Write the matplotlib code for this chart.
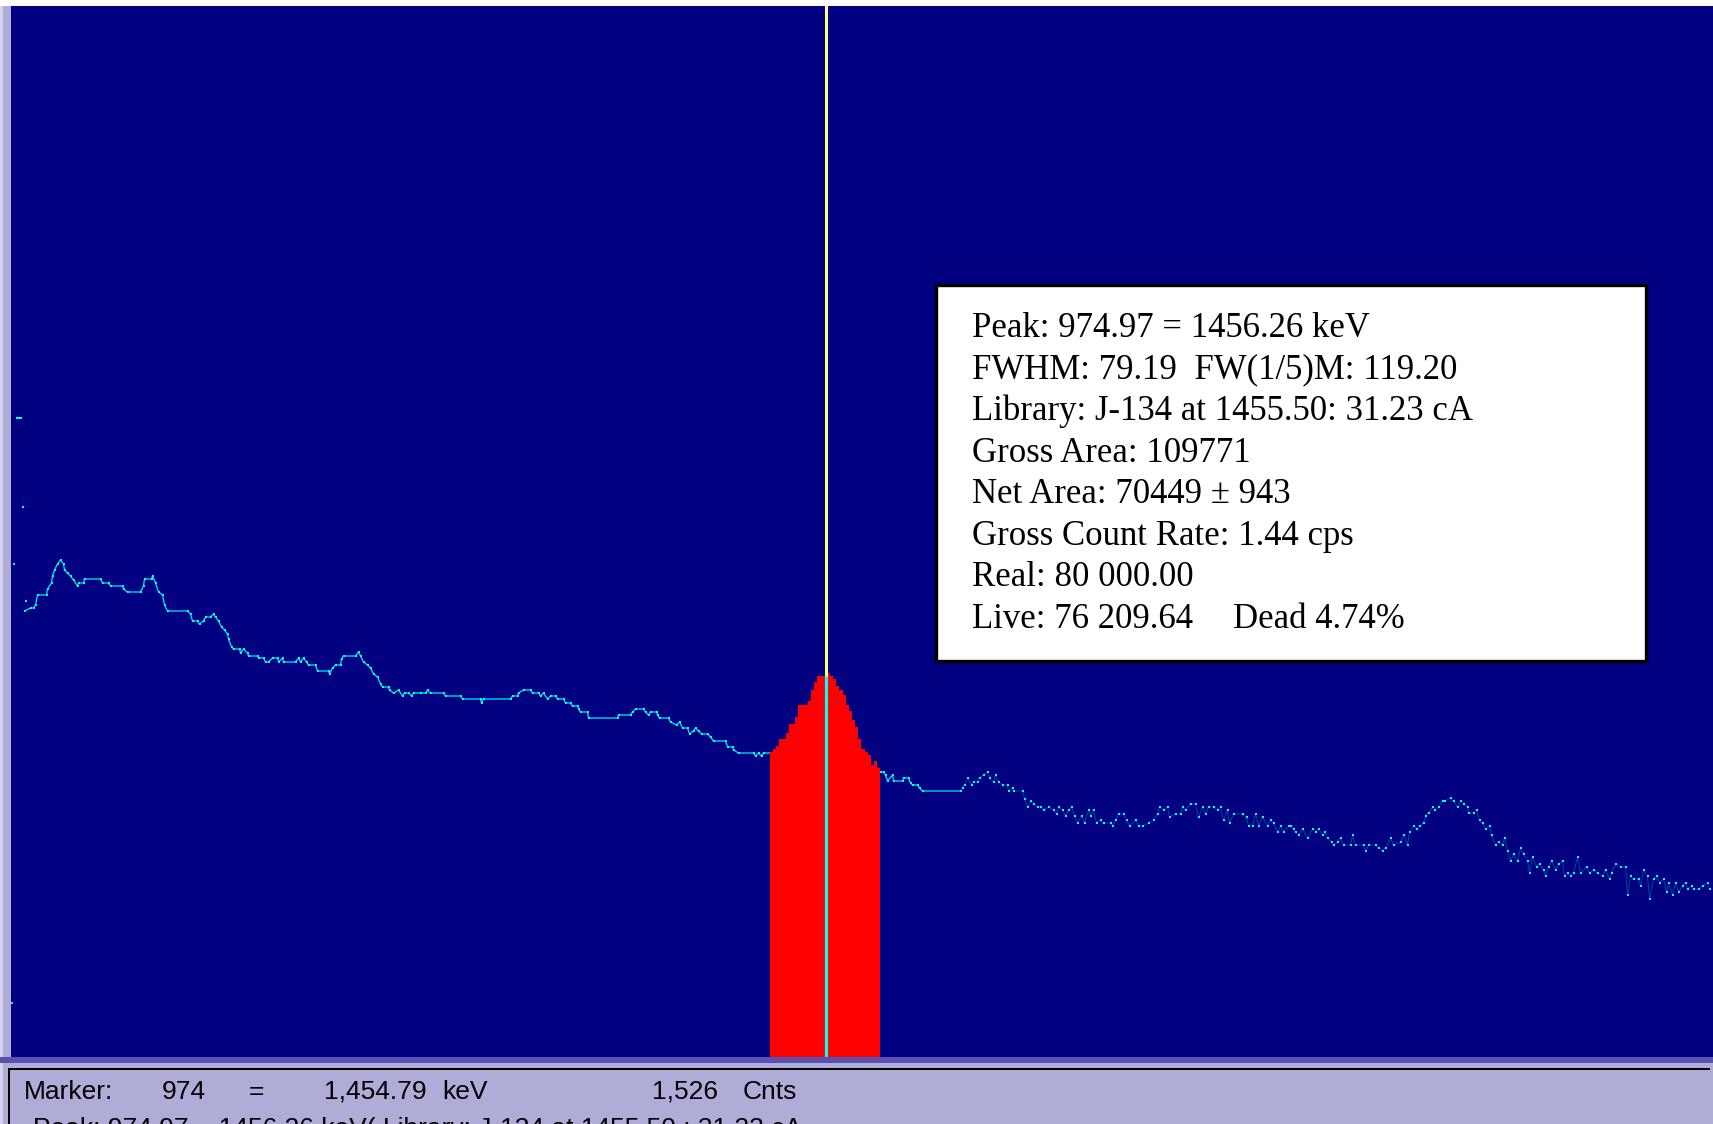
import matplotlib
matplotlib.use("Agg")
import matplotlib.pyplot as plt
from matplotlib.patches import Rectangle
from matplotlib import font_manager

# ---------------- data ----------------
# isolated first channels
lead_ch = [160, 162, 165, 167, 169, 171, 174]
lead_cnt = [216, 1972, 2556, 2556, 2556, 2200, 1824]

# spectrum (channel, counts)
spec_ch = [173, 179, 182, 184, 186, 195, 196, 200, 201, 203, 206, 209, 212, 213, 216, 219, 222, 226, 227, 232,
           233, 249, 251, 257, 259, 271, 272, 276, 289, 292, 293, 300, 301, 304, 307, 311, 313, 316, 336, 339,
           341, 346, 348, 352, 354, 359, 362, 364, 367, 370, 373, 376, 377, 380, 382, 388, 389, 392, 396, 397,
           406, 407, 412, 414, 417, 421, 426, 427, 431, 432, 444, 447, 449, 452, 455, 457, 464, 466, 477, 478,
           481, 484, 489, 490, 492, 504, 507, 509, 512, 516, 519, 522, 526, 529, 531, 537, 538, 542, 547, 551,
           553, 557, 560, 562, 569, 574, 576, 579, 592, 594, 609, 611, 629, 630, 632, 659, 661, 666, 667, 672,
           679, 681, 687, 689, 692, 696, 699, 704, 706, 712, 714, 719, 721, 726, 727, 729, 736, 737, 766, 767,
           779, 781, 784, 792, 794, 797, 799, 805, 806, 808, 817, 819, 825, 828, 831, 836, 838, 842, 844, 847,
           850, 856, 859, 862, 874, 876, 881, 882, 887, 902, 904, 907, 910, 912, 919,
           1029, 1032, 1034, 1036, 1041, 1042, 1051, 1052, 1057, 1059, 1061, 1066, 1068, 1071, 1109, 1111, 1113,
           1116, 1120, 1122, 1126, 1128, 1132, 1136, 1138, 1142, 1144, 1147, 1151, 1156, 1157, 1161, 1162, 1171,
           1173, 1176, 1179, 1182, 1186, 1189, 1192, 1197, 1202, 1205, 1207, 1211, 1214, 1217, 1220, 1223, 1226,
           1230, 1233, 1237, 1239, 1242, 1245, 1249, 1252, 1259, 1261, 1264, 1267, 1272, 1275, 1278, 1284, 1287,
           1291, 1297, 1302, 1306, 1308, 1312, 1316, 1318, 1324, 1329, 1331, 1334, 1339, 1344, 1347, 1351, 1354,
           1357, 1362, 1366, 1369, 1372, 1376, 1378, 1382, 1391, 1395, 1397, 1401, 1404, 1407, 1411, 1416, 1419,
           1422, 1426, 1429, 1432, 1437, 1439, 1442, 1444, 1447, 1451, 1456, 1461, 1464, 1467, 1471, 1473, 1476,
           1480, 1482, 1486, 1489, 1492, 1499, 1501, 1504, 1512, 1514, 1517, 1524, 1527, 1531, 1534, 1539, 1542,
           1549, 1552, 1556, 1558, 1562, 1565, 1568, 1572, 1574, 1577, 1581, 1583, 1587, 1591, 1593, 1599, 1602,
           1606, 1609, 1612, 1616, 1617, 1622, 1625, 1628, 1631, 1634, 1638, 1640, 1644, 1647, 1651, 1653, 1656,
           1659, 1662, 1666, 1669, 1672, 1676, 1678, 1681, 1685, 1688, 1692, 1694, 1697, 1700, 1704, 1707, 1711,
           1713, 1716, 1719, 1722, 1726, 1729, 1735, 1738, 1742, 1746, 1751, 1754, 1758, 1760, 1764, 1769, 1774,
           1776, 1779, 1782, 1787, 1789, 1792, 1796, 1798, 1802, 1805, 1808, 1812, 1815, 1817, 1821, 1824, 1827,
           1831, 1834, 1836, 1840, 1842, 1847, 1851, 1856, 1858]
spec_cnt = [1784, 1796, 1796, 1808, 1848, 1848, 1872, 1896, 1924, 1948, 1972, 1988, 1972, 1948, 1936, 1924, 1908, 1884, 1896, 1896,
            1912, 1912, 1896, 1896, 1884, 1884, 1872, 1860, 1860, 1884, 1912, 1912, 1924, 1896, 1860, 1848, 1808, 1784, 1784, 1772,
            1744, 1744, 1732, 1744, 1760, 1760, 1772, 1760, 1744, 1720, 1708, 1692, 1672, 1640, 1632, 1632, 1616, 1632, 1616, 1604,
            1604, 1596, 1596, 1580, 1580, 1596, 1596, 1580, 1596, 1580, 1580, 1596, 1580, 1596, 1580, 1568, 1568, 1544, 1544, 1532,
            1556, 1568, 1568, 1592, 1604, 1604, 1620, 1604, 1580, 1568, 1556, 1532, 1520, 1492, 1480, 1480, 1468, 1456, 1468, 1444,
            1456, 1456, 1444, 1456, 1456, 1456, 1468, 1456, 1456, 1444, 1444, 1432, 1432, 1416, 1432, 1432, 1444, 1444, 1456, 1468,
            1468, 1456, 1456, 1444, 1456, 1432, 1444, 1444, 1432, 1432, 1416, 1416, 1404, 1404, 1392, 1380, 1380, 1356, 1356, 1368,
            1368, 1380, 1392, 1392, 1380, 1368, 1380, 1380, 1368, 1356, 1356, 1340, 1328, 1340, 1316, 1316, 1292, 1304, 1316, 1304,
            1292, 1292, 1280, 1264, 1264, 1240, 1240, 1228, 1216, 1216, 1204, 1216, 1204, 1216, 1216,
            1140, 1140, 1128, 1104, 1128, 1104, 1104, 1116, 1116, 1096, 1088, 1088, 1076, 1064, 1064, 1076, 1088,
            1116, 1088, 1100, 1100, 1116, 1128, 1140, 1116, 1100, 1128, 1100, 1088, 1088, 1064, 1076, 1064, 1064,
            1032, 1000, 1024, 1012, 1000, 1000, 988, 1000, 988, 972, 1000, 988, 964, 988, 1000, 964, 936,
            964, 936, 988, 964, 988, 936, 948, 936, 936, 924, 948, 972, 972, 948, 924, 948, 924,
            924, 936, 948, 972, 1000, 988, 1000, 960, 972, 972, 1000, 988, 1012, 1012, 960, 1000, 972,
            1000, 1000, 988, 1000, 948, 988, 936, 972, 972, 960, 924, 924, 972, 924, 960, 924, 948,
            936, 900, 924, 900, 924, 924, 912, 900, 888, 912, 876, 912, 900, 912, 888, 900, 876,
            860, 848, 860, 876, 848, 848, 888, 848, 848, 824, 848, 848, 836, 824, 836, 876, 848,
            860, 888, 848, 900, 924, 912, 924, 936, 964, 976, 1000, 988, 1000, 1024, 1024, 1036, 1024,
            1000, 1024, 1012, 1000, 976, 976, 988, 948, 936, 912, 924, 888, 848, 860, 848, 876, 824,
            784, 812, 784, 836, 812, 784, 736, 800, 760, 772, 748, 724, 760, 784, 748, 772, 784,
            724, 736, 724, 736, 800, 736, 760, 736, 748, 736, 724, 748, 712, 736, 772, 760, 760,
            648, 724, 712, 712, 684, 748, 724, 632, 712, 724, 696, 712, 660, 696, 648, 696, 660,
            684, 696, 672, 684, 672, 672, 684, 696, 672]

# region of interest (red peak) : bin edges (channels) and counts
roi_edges = [918.5, 921.5, 924.5, 927.5, 934.5, 937.5, 943.5, 946.5, 956.5, 959.5, 962.5, 965.5, 975.5,
             978.5, 981.5, 984.5, 987.5, 991.5, 994.5, 997.5, 1000.5, 1003.5, 1006.5, 1009.5, 1013.5,
             1016.5, 1019.5, 1022.5, 1025.5, 1028.5]
roi_cnt = [1220, 1232, 1244, 1272, 1296, 1332, 1360, 1408, 1424, 1468, 1500, 1524, 1536,
           1524, 1512, 1484, 1468, 1448, 1408, 1384, 1348, 1320, 1272, 1232, 1220,
           1208, 1168, 1184, 1156]

marker_ch = 974
marker_cnt = 1526

info_lines = ["Peak: 974.97 = 1456.26 keV",
              "FWHM: 79.19  FW(1/5)M: 119.20",
              "Library: J-134 at 1455.50: 31.23 cA",
              "Gross Area: 109771",
              "Net Area: 70449 \u00b1 943",
              "Gross Count Rate: 1.44 cps",
              "Real: 80 000.00",
              "Live: 76 209.64"]
dead_text = "Dead 4.74%"

status_items = [("Marker:", 24), ("974", 162), ("=", 249), ("1,454.79", 324), ("keV", 442),
                ("1,526", 652), ("Cnts", 743)]
status_line2 = "Peak: 974.97 = 1456.26 keV( Library: J-134 at 1455.50 : 31.23 cA"

# ---------------- figure ----------------
W, H = 1713, 1124
NAVY = "#000080"
LAV = "#b0acd8"
PURPLE = "#5a50b0"

fig = plt.figure(figsize=(W / 100, H / 100), dpi=100)
fig.patch.set_facecolor(LAV)


def fx(x):
    return x / W


def fy(y):
    return 1 - y / H


def frect(x0, y0, x1, y1, **kw):
    fig.patches.append(Rectangle((fx(x0), fy(y1)), fx(x1) - fx(x0), fy(y0) - fy(y1),
                                 transform=fig.transFigure, figure=fig, **kw))


# window chrome
frect(0, 0, W, 6, facecolor="white", edgecolor="none")
frect(0, 6, 2.5, H, facecolor="#d6d3ec", edgecolor="none")
frect(0, 1057, W, 1063, facecolor=PURPLE, edgecolor="none")
frect(8, 1068, W - 3, 1070, facecolor="black", edgecolor="none")
frect(8, 1068, 10, H, facecolor="black", edgecolor="none")

# plot axes
ax = fig.add_axes([fx(11), fy(1057), fx(W) - fx(11), fy(6) - fy(1057)])
ax.set_facecolor(NAVY)
for s in ax.spines.values():
    s.set_visible(False)
ax.set_xticks([])
ax.set_yticks([])
ax.set_xlim(159.5, 1861.5)
ax.set_ylim(0, 4204)

# smooth low-energy part drawn as a connected trace, noisy part as dots
n_join = spec_ch.index(1109) + 1
ax.plot(spec_ch[:n_join], spec_cnt[:n_join], color="#00e8ff", lw=0.9, zorder=2)
ax.plot(spec_ch[n_join - 1:], spec_cnt[n_join - 1:], color="#0090d0", lw=0.6, alpha=0.55, zorder=2)
ax.plot(spec_ch, spec_cnt, ls="none", marker="s", ms=2.0, mew=0, color="#00ffff", zorder=2)
ax.plot(lead_ch, lead_cnt, ls="none", marker="s", ms=1.8, mew=0, color="#00ffff", zorder=2)

ax.stairs(roi_cnt, roi_edges, fill=True, color="#ff0000", zorder=3)

ax.axvline(marker_ch, color="#ffff80", lw=2.2, zorder=4)
ax.vlines(marker_ch, 0, marker_cnt, color="#00ffff", lw=2.2, zorder=5)

# info box
frect(936, 285, 1646, 661, facecolor="white", edgecolor="black", linewidth=2.4, zorder=10)
serif = ["Liberation Serif", "DejaVu Serif"]
for i, t in enumerate(info_lines):
    fig.text(fx(972), fy(337 + i * 41.57), t, fontsize=25, family=serif, color="black",
             va="baseline", ha="left", zorder=11)
fig.text(fx(1233), fy(337 + 7 * 41.57), dead_text, fontsize=25, family=serif, color="black",
         va="baseline", ha="left", zorder=11)

# status bar
names = {f.name for f in font_manager.fontManager.ttflist}
if "Liberation Sans Narrow" in names:
    sfam, ssize = ["Liberation Sans Narrow", "DejaVu Sans"], 22
else:
    sfam, ssize = ["Liberation Sans", "DejaVu Sans"], 19
for t, x in status_items:
    fig.text(fx(x), fy(1099), t, fontsize=ssize, family=sfam, color="black", va="baseline", ha="left")
fig.text(fx(33), fy(1136), status_line2, fontsize=ssize, family=sfam, color="black",
         va="baseline", ha="left")

fig.savefig("out.png", dpi=100, facecolor=fig.get_facecolor())
